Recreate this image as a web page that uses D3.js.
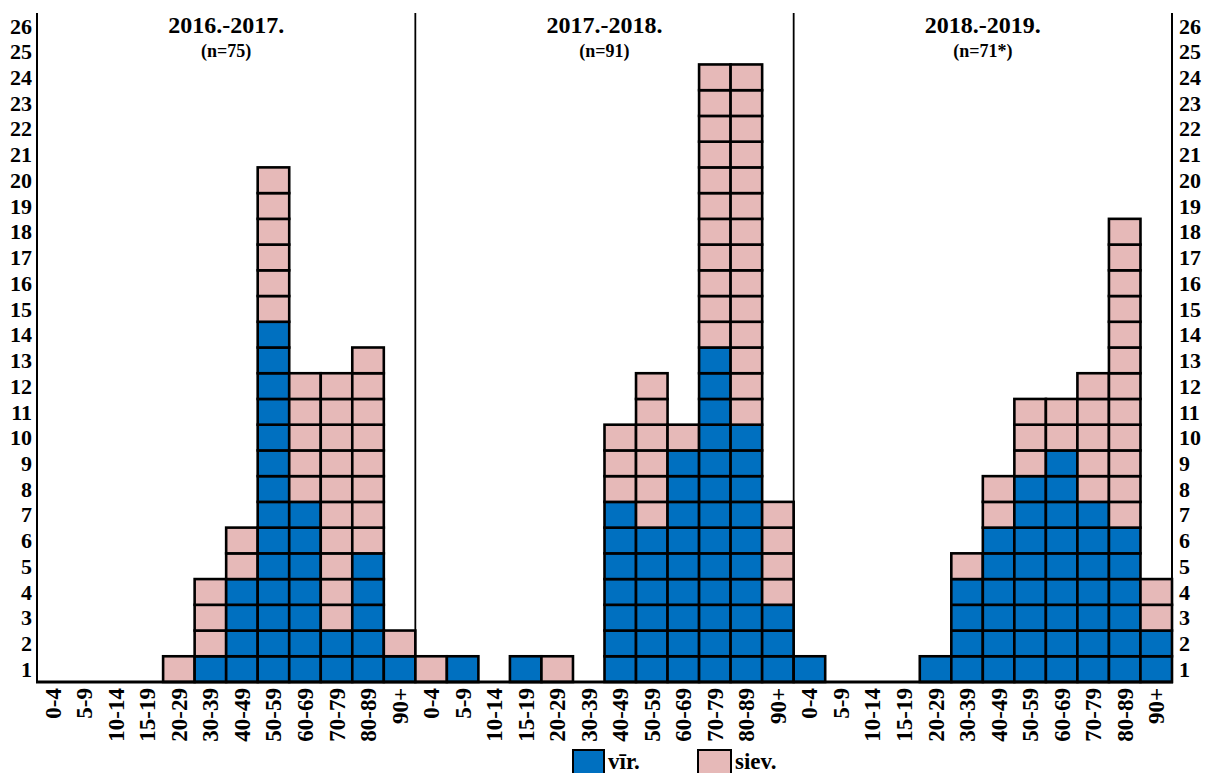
<!DOCTYPE html>
<html>
<head>
<meta charset="utf-8">
<script src="https://cdn.jsdelivr.net/npm/d3@7"></script>
<style>
  html, body { margin: 0; padding: 0; background: #fff; }
  svg { display: block; }
  text { font-family: "Liberation Serif", "Times New Roman", serif; font-weight: bold; fill: #000; }
</style>
</head>
<body>
<svg id="chart" width="1205" height="773"></svg>
<script>
// ---- data ----
const ageGroups = ["0-4","5-9","10-14","15-19","20-29","30-39","40-49","50-59","60-69","70-79","80-89","90+"];
const periods = ["2016.-2017.", "2017.-2018.", "2018.-2019."];
const periodN = ["(n=75)", "(n=91)", "(n=71*)"];
// male (vīr.) counts per age group, per period
const male2016 = [0,0,0,0,0,1,4,14,7,2,5,1];
const male2017 = [0,1,0,1,0,0,7,6,9,13,10,3];
const male2018 = [1,0,0,0,1,4,6,8,9,7,6,2];
// female (siev.) counts per age group, per period
const female2016 = [0,0,0,0,1,3,2,6,5,10,8,1];
const female2017 = [1,0,0,0,1,0,3,6,1,11,14,4];
const female2018 = [0,0,0,0,0,1,2,3,2,5,12,2];
const yTicks = d3.range(1, 27);
const legendLabels = ["vīr.", "siev."];

(function () {
const colMale = "#0070C0", colFemale = "#E6B9B8";

const maleAll = [male2016, male2017, male2018];
const femaleAll = [female2016, female2017, female2018];
const columns = [];
periods.forEach((p, pi) => {
  ageGroups.forEach((a, ai) => {
    columns.push({ key: pi + "_" + ai, age: a, period: pi, male: maleAll[pi][ai], female: femaleAll[pi][ai] });
  });
});

const svg = d3.select("#chart");
const pLeft = 37, pRight = 1172, pTop = 13, pBottom = 682;

const x = d3.scaleBand().domain(columns.map(c => c.key)).range([pLeft, pRight]).padding(0);
const y = d3.scaleLinear().domain([0, 26]).range([pBottom, pTop]);

// cells
const cells = [];
columns.forEach(c => {
  for (let i = 0; i < c.male; i++) cells.push({ key: c.key, lvl: i, sex: "m" });
  for (let i = 0; i < c.female; i++) cells.push({ key: c.key, lvl: c.male + i, sex: "f" });
});

svg.append("g").selectAll("rect").data(cells).join("rect")
  .attr("x", d => x(d.key))
  .attr("y", d => y(d.lvl + 1))
  .attr("width", x.bandwidth())
  .attr("height", y(0) - y(1))
  .attr("fill", d => d.sex === "m" ? colMale : colFemale)
  .attr("stroke", "#000")
  .attr("stroke-width", 2.6);

// axes lines
const axisG = svg.append("g").attr("stroke", "#000");
axisG.append("line").attr("x1", pLeft).attr("x2", pLeft).attr("y1", pTop).attr("y2", pBottom).attr("stroke-width", 2);
axisG.append("line").attr("x1", pRight).attr("x2", pRight).attr("y1", pTop).attr("y2", pBottom).attr("stroke-width", 2);
axisG.append("line").attr("x1", pLeft - 1).attr("x2", pRight + 1).attr("y1", pBottom).attr("y2", pBottom).attr("stroke-width", 3);
[1, 2].forEach(pi => {
  const xx = x(pi + "_0");
  axisG.append("line").attr("x1", xx).attr("x2", xx).attr("y1", pTop).attr("y2", pBottom).attr("stroke-width", 1.8);
});

// y labels both sides
const yl = svg.append("g").attr("font-size", 22);
yl.selectAll("text.l").data(yTicks).join("text").attr("class", "l")
  .attr("x", pLeft - 5).attr("y", d => y(d - 0.5)).attr("dy", "0.35em")
  .attr("text-anchor", "end").text(d => d);
yl.selectAll("text.r").data(yTicks).join("text").attr("class", "r")
  .attr("x", pRight + 7).attr("y", d => y(d - 0.5)).attr("dy", "0.35em")
  .attr("text-anchor", "start").text(d => d);

// x labels rotated
svg.append("g").attr("font-size", 23).selectAll("text").data(columns).join("text")
  .attr("transform", d => `translate(${x(d.key) + x.bandwidth() / 2 + 8},${pBottom + 6}) rotate(-90)`)
  .attr("text-anchor", "end")
  .text(d => d.age);

// period titles
periods.forEach((p, pi) => {
  const x0 = x(pi + "_0"), x1 = x(pi + "_11") + x.bandwidth();
  const cx = (x0 + x1) / 2;
  svg.append("text").attr("x", cx).attr("y", 33).attr("text-anchor", "middle").attr("font-size", 24).text(p);
  svg.append("text").attr("x", cx).attr("y", 57).attr("text-anchor", "middle").attr("font-size", 18).text(periodN[pi]);
});

// legend
const lg = svg.append("g");
const legendItems = [
  { label: legendLabels[0], color: colMale, x: 573, w: 31 },
  { label: legendLabels[1], color: colFemale, x: 698, w: 33 }
];
legendItems.forEach(it => {
  lg.append("rect").attr("x", it.x).attr("y", 750).attr("width", it.w).attr("height", 26)
    .attr("fill", it.color).attr("stroke", "#000").attr("stroke-width", 2);
  lg.append("text").attr("x", it.x + it.w + 4).attr("y", 769).attr("font-size", 23).text(it.label);
});
})();
</script>
</body>
</html>
